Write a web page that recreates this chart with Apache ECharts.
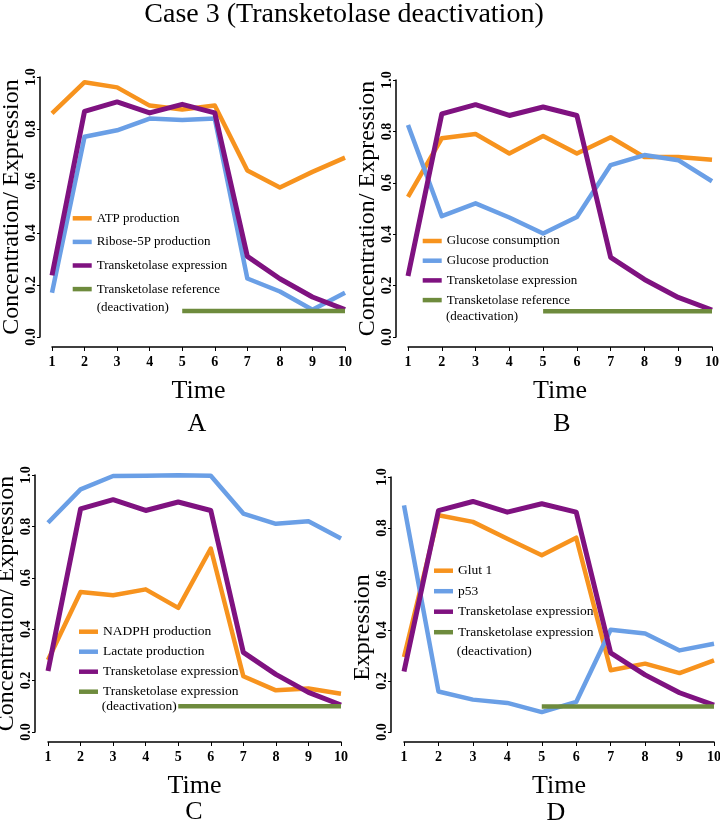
<!DOCTYPE html>
<html><head><meta charset="utf-8">
<script src="https://cdn.jsdelivr.net/npm/echarts@6/dist/echarts.min.js"></script>
<style>html,body{margin:0;padding:0;background:#fff}#c{width:720px;height:823px}</style>
</head><body><div id="c"></div>
<script>
// ---- data ----
const time = [1, 2, 3, 4, 5, 6, 7, 8, 9, 10];
const transketolaseExpression = [0.237, 0.868, 0.904, 0.862, 0.895, 0.862, 0.31, 0.224, 0.154, 0.105];
const refTime = [5, 10];
const refValue = [0.1, 0.1];
const atpProduction = [0.86, 0.98, 0.96, 0.89, 0.875, 0.89, 0.64, 0.575, 0.635, 0.69];
const ribose5PProduction = [0.17, 0.77, 0.795, 0.84, 0.835, 0.84, 0.225, 0.175, 0.105, 0.17];
const glucoseConsumption = [0.545, 0.773, 0.79, 0.714, 0.782, 0.714, 0.777, 0.70, 0.70, 0.69];
const glucoseProduction = [0.825, 0.47, 0.52, 0.465, 0.403, 0.467, 0.669, 0.708, 0.688, 0.606];
const nadphProduction = [0.28, 0.545, 0.532, 0.555, 0.483, 0.714, 0.217, 0.162, 0.169, 0.149];
const lactateProduction = [0.814, 0.944, 0.996, 0.997, 0.999, 0.997, 0.85, 0.81, 0.82, 0.753];
const glut1 = [0.294, 0.85, 0.824, 0.758, 0.693, 0.762, 0.242, 0.268, 0.231, 0.281];
const p53 = [0.889, 0.159, 0.127, 0.114, 0.078, 0.118, 0.401, 0.386, 0.32, 0.346];
const panelLetters = ['A', 'B', 'C', 'D'];
const titleText = 'Case 3 (Transketolase deactivation)';

// ---- styling / layout ----
const COL = { orange: '#F7931E', blue: '#6A9FE6', purple: '#7F1280', green: '#6E8B3D' };
const FONT = 'Liberation Serif';
const panels = [
  { grid: { left: 52, top: 77, width: 293, height: 260 }, yOff: 12, yName: 'Concentration/ Expression', namePad: 0,
    s1: ['ATP production', atpProduction], s2: ['Ribose-5P production', ribose5PProduction],
    refName: 'Transketolase reference (deactivation)',
    leg: { left: 72.7, top: 210.3, spacing: 23.6, fs: 13 }, deact: [96.7, 307.7], label: [197, 424] },
  { grid: { left: 408, top: 80, width: 304, height: 257 }, yOff: 12, yName: 'Concentration/ Expression', namePad: 0,
    s1: ['Glucose consumption', glucoseConsumption], s2: ['Glucose production', glucoseProduction],
    refName: 'Transketolase reference (deactivation)',
    leg: { left: 422.7, top: 233, spacing: 19.7, fs: 13 }, deact: [446, 316.7], label: [562, 424] },
  { grid: { left: 48, top: 475, width: 293, height: 257 }, yOff: 13, yName: 'Concentration/ Expression', namePad: 0,
    s1: ['NADPH production', nadphProduction], s2: ['Lactate production', lactateProduction],
    refName: 'Transketolase expression (deactivation)',
    leg: { left: 79, top: 623.7, spacing: 20, fs: 13.5 }, deact: [101.7, 706.7], label: [194, 812] },
  { grid: { left: 404, top: 477, width: 310, height: 255 }, yOff: 13, yName: 'Expression', namePad: 46,
    s1: ['Glut 1', glut1], s2: ['p53', p53],
    refName: 'Transketolase expression (deactivation)',
    leg: { left: 434, top: 562.7, spacing: 20.5, fs: 13.5 }, deact: [456.7, 651], label: [556, 813] }
];

const pairs = (xs, ys) => xs.map((x, i) => [x, ys[i]]);
const lineSeries = (name, data, color, idx, w) => ({
  type: 'line', name, data, xAxisIndex: idx, yAxisIndex: idx,
  showSymbol: false, symbol: 'none', clip: false, silent: true,
  lineStyle: { color, width: w || 4.5, join: 'round', cap: 'butt' },
  itemStyle: { color }
});

const series = [], legends = [], graphics = [];
panels.forEach((p, i) => {
  series.push(lineSeries(p.s1[0], pairs(time, p.s1[1]), COL.orange, i));
  series.push(lineSeries(p.s2[0], pairs(time, p.s2[1]), COL.blue, i));
  series.push(lineSeries('Transketolase expression', pairs(time, transketolaseExpression), COL.purple, i, 5));
  series.push(lineSeries(p.refName, pairs(refTime, refValue), COL.green, i));
  const lh = 16;
  legends.push({
    orient: 'vertical', left: p.leg.left, top: p.leg.top, padding: 0,
    itemWidth: 19, itemHeight: 4.5, itemGap: p.leg.spacing - lh, icon: 'rect',
    selectedMode: false,
    data: [p.s1[0], p.s2[0], 'Transketolase expression', p.refName],
    formatter: n => n.replace(' (deactivation)', ''),
    textStyle: { fontFamily: FONT, fontSize: p.leg.fs, color: '#000', lineHeight: lh }
  });
  graphics.push({ type: 'text', x: p.deact[0], y: p.deact[1], silent: true,
    style: { text: '(deactivation)', fill: '#000', font: p.leg.fs + 'px "' + FONT + '"', align: 'left', verticalAlign: 'middle' } });
  graphics.push({ type: 'text', x: p.label[0], y: p.label[1], silent: true,
    style: { text: panelLetters[i], fill: '#000', font: '26px "' + FONT + '"', align: 'center', verticalAlign: 'middle' } });
});
graphics.push({ type: 'text', x: 344, y: 15, silent: true,
  style: { text: titleText, fill: '#000', font: '28px "' + FONT + '"', align: 'center', verticalAlign: 'middle' } });

const option = {
  animation: false,
  backgroundColor: '#fff',
  grid: panels.map(p => Object.assign({ containLabel: false, outerBoundsMode: 'none' }, p.grid)),
  xAxis: panels.map((p, i) => ({
    gridIndex: i, type: 'value', min: 1, max: 10, interval: 1, offset: 10,
    name: 'Time', nameLocation: 'middle', nameGap: 31, nameMoveOverlap: false,
    nameTextStyle: { fontFamily: FONT, fontSize: 26, color: '#000' },
    axisLine: { show: true, onZero: false, lineStyle: { color: '#000', width: 1.5 } },
    axisTick: { show: true, length: 4, lineStyle: { color: '#000', width: 1 } },
    axisLabel: { fontFamily: FONT, fontWeight: 'bold', fontSize: 14, color: '#000', margin: 8 },
    splitLine: { show: false }
  })),
  yAxis: panels.map((p, i) => ({
    gridIndex: i, type: 'value', min: 0, max: 1, interval: 0.2, offset: p.yOff,
    name: p.yName, nameLocation: 'middle', nameGap: 16, nameMoveOverlap: false,
    nameTextStyle: { fontFamily: FONT, fontSize: 24, color: '#000', padding: [0, p.namePad, 0, 0] },
    axisLine: { show: true, onZero: false, lineStyle: { color: '#000', width: 1.5 } },
    axisTick: { show: true, length: 3, lineStyle: { color: '#000', width: 1 } },
    axisLabel: { rotate: 90, fontFamily: FONT, fontWeight: 'bold', fontSize: 14, color: '#000', margin: 2,
      formatter: v => v.toFixed(1) },
    splitLine: { show: false }
  })),
  legend: legends,
  series,
  graphic: graphics
};
const chart = echarts.init(document.getElementById('c'), null, { renderer: 'canvas' });
chart.setOption(option);
</script>
</body></html>
